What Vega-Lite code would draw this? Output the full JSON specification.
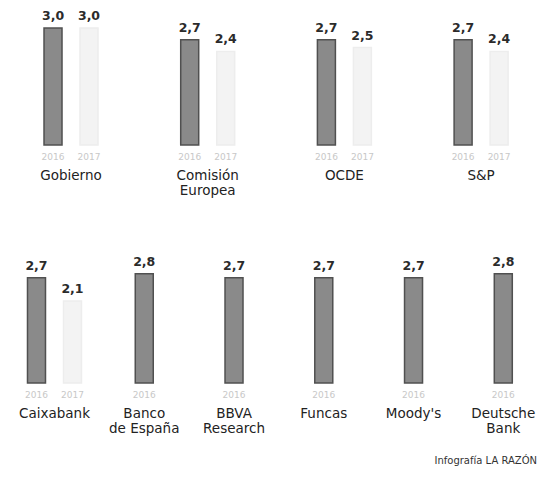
{
  "$schema": "https://vega.github.io/schema/vega-lite/v6.json",
  "padding": {"top": 10, "left": 0, "right": 0, "bottom": 0},
  "background": "white",
  "bounds": "flush",
  "spacing": 121,
  "title": {"text": "Infografía LA RAZÓN", "orient": "bottom", "anchor": "end", "fontSize": 10, "fontWeight": "normal", "color": "#333333", "font": "DejaVu Sans", "offset": 20},
  "config": {
    "view": {"stroke": null},
    "font": "DejaVu Sans",
    "locale": {"number": {"decimal": ",", "thousands": ".", "grouping": [3], "currency": ["", " €"]}}
  },
  "vconcat": [
    {
      "width": 537,
      "height": 117,
      "data": {"values": [
        {"grupo": "Gobierno", "anio": "2016", "valor": 3.0},
        {"grupo": "Gobierno", "anio": "2017", "valor": 3.0},
        {"grupo": "Comisión\nEuropea", "anio": "2016", "valor": 2.7},
        {"grupo": "Comisión\nEuropea", "anio": "2017", "valor": 2.4},
        {"grupo": "OCDE", "anio": "2016", "valor": 2.7},
        {"grupo": "OCDE", "anio": "2017", "valor": 2.5},
        {"grupo": "S&P", "anio": "2016", "valor": 2.7},
        {"grupo": "S&P", "anio": "2017", "valor": 2.4}
      ]},
      "transform": [
        {"joinaggregate": [{"op": "count", "as": "n"}], "groupby": ["grupo"]},
        {"calculate": "datum.n == 1 ? 'b' : (datum.anio == '2016' ? 'a' : 'c')", "as": "slot"}
      ],
      "encoding": {
        "x": {"field": "grupo", "type": "nominal", "sort": null, "axis": null,
              "scale": {"paddingInner": 0.605, "paddingOuter": 0.2667, "align": 0.6036}}
      },
      "layer": [
        {
          "mark": {"type": "bar", "strokeWidth": 1.5},
          "encoding": {
            "xOffset": {"field": "slot", "type": "nominal", "scale": {"domain": ["a", "b", "c"], "paddingInner": 0, "paddingOuter": 0}},
            "y": {"field": "valor", "type": "quantitative", "axis": null, "scale": {"domain": [0, 3]}},
            "fill": {"field": "anio", "type": "nominal", "legend": null, "scale": {"domain": ["2016", "2017"], "range": ["#8a8a8a", "#f3f3f3"]}},
            "stroke": {"field": "anio", "type": "nominal", "legend": null, "scale": {"domain": ["2016", "2017"], "range": ["#505050", "#ededed"]}}
          }
        },
        {
          "mark": {"type": "text", "dy": -8, "baseline": "alphabetic", "fontWeight": "bold", "fontSize": 12.5, "color": "#2b2b2b"},
          "encoding": {
            "xOffset": {"field": "slot", "type": "nominal"},
            "y": {"field": "valor", "type": "quantitative"},
            "text": {"field": "valor", "type": "quantitative", "format": ".1f"}
          }
        },
        {
          "mark": {"type": "text", "dy": 8, "baseline": "top", "fontSize": 9, "color": "#c8c8c8"},
          "encoding": {
            "xOffset": {"field": "slot", "type": "nominal"},
            "y": {"datum": 0},
            "text": {"field": "anio", "type": "nominal"}
          }
        },
        {
          "transform": [{"filter": "datum.anio == '2016'"}],
          "mark": {"type": "text", "dy": 24, "baseline": "top", "fontSize": 13.5, "lineBreak": "\n", "lineHeight": 15, "color": "#222222"},
          "encoding": {
            "y": {"datum": 0},
            "text": {"field": "grupo", "type": "nominal"}
          }
        }
      ]
    },
    {
      "width": 537,
      "height": 117,
      "data": {"values": [
        {"grupo": "Caixabank", "anio": "2016", "valor": 2.7},
        {"grupo": "Caixabank", "anio": "2017", "valor": 2.1},
        {"grupo": "Banco\nde España", "anio": "2016", "valor": 2.8},
        {"grupo": "BBVA\nResearch", "anio": "2016", "valor": 2.7},
        {"grupo": "Funcas", "anio": "2016", "valor": 2.7},
        {"grupo": "Moody's", "anio": "2016", "valor": 2.7},
        {"grupo": "Deutsche\nBank", "anio": "2016", "valor": 2.8}
      ]},
      "transform": [
        {"joinaggregate": [{"op": "count", "as": "n"}], "groupby": ["grupo"]},
        {"calculate": "datum.n == 1 ? 'b' : (datum.anio == '2016' ? 'a' : 'c')", "as": "slot"}
      ],
      "encoding": {
        "x": {"field": "grupo", "type": "nominal", "sort": null, "axis": null,
              "scale": {"paddingInner": 0.3984, "paddingOuter": 0.1905, "align": 0.804}}
      },
      "layer": [
        {
          "mark": {"type": "bar", "strokeWidth": 1.5},
          "encoding": {
            "xOffset": {"field": "slot", "type": "nominal", "scale": {"domain": ["a", "b", "c"], "paddingInner": 0, "paddingOuter": 0}},
            "y": {"field": "valor", "type": "quantitative", "axis": null, "scale": {"domain": [0, 3]}},
            "fill": {"field": "anio", "type": "nominal", "legend": null, "scale": {"domain": ["2016", "2017"], "range": ["#8a8a8a", "#f3f3f3"]}},
            "stroke": {"field": "anio", "type": "nominal", "legend": null, "scale": {"domain": ["2016", "2017"], "range": ["#505050", "#ededed"]}}
          }
        },
        {
          "mark": {"type": "text", "dy": -8, "baseline": "alphabetic", "fontWeight": "bold", "fontSize": 12.5, "color": "#2b2b2b"},
          "encoding": {
            "xOffset": {"field": "slot", "type": "nominal"},
            "y": {"field": "valor", "type": "quantitative"},
            "text": {"field": "valor", "type": "quantitative", "format": ".1f"}
          }
        },
        {
          "mark": {"type": "text", "dy": 8, "baseline": "top", "fontSize": 9, "color": "#c8c8c8"},
          "encoding": {
            "xOffset": {"field": "slot", "type": "nominal"},
            "y": {"datum": 0},
            "text": {"field": "anio", "type": "nominal"}
          }
        },
        {
          "transform": [{"filter": "datum.anio == '2016'"}],
          "mark": {"type": "text", "dy": 24, "baseline": "top", "fontSize": 13.5, "lineBreak": "\n", "lineHeight": 15, "color": "#222222"},
          "encoding": {
            "y": {"datum": 0},
            "text": {"field": "grupo", "type": "nominal"}
          }
        }
      ]
    }
  ]
}
